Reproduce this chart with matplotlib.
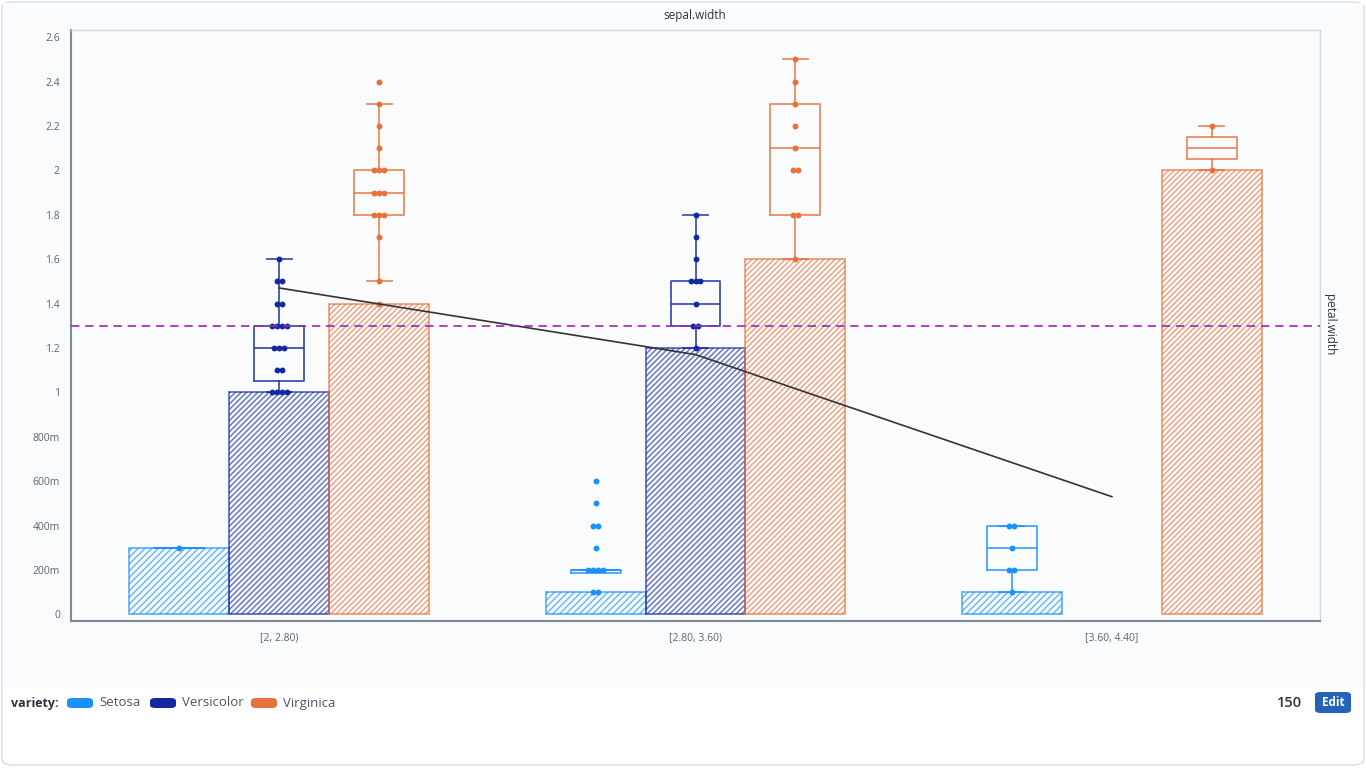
import matplotlib
matplotlib.use('Agg')
import matplotlib.pyplot as plt
from matplotlib.patches import FancyBboxPatch, Rectangle
from matplotlib.colors import to_rgba
import numpy as np

plt.rcParams['font.family'] = ['Open Sans', 'DejaVu Sans']
plt.rcParams['hatch.linewidth'] = 1.1

# ---------------- data ----------------
bins = ['[2, 2.80)', '[2.80, 3.60)', '[3.60, 4.40]']
varieties = ['Setosa', 'Versicolor', 'Virginica']
colors = {'Setosa': '#1890ff', 'Versicolor': '#1428a0', 'Virginica': '#e8703a'}
hatches = {'Setosa': '/////', 'Versicolor': '//////', 'Virginica': '//////'}

bar_setosa = [0.3, 0.1, 0.1]
bar_versicolor = [1.0, 1.2, None]
bar_virginica = [1.4, 1.6, 2.0]

pts_setosa = [
    [0.3],
    [0.1, 0.1, 0.2, 0.2, 0.2, 0.2, 0.3, 0.4, 0.4, 0.5, 0.6],
    [0.1, 0.2, 0.2, 0.3, 0.4, 0.4],
]
pts_versicolor = [
    [1.0, 1.0, 1.0, 1.0, 1.1, 1.1, 1.2, 1.2, 1.2, 1.3, 1.3, 1.3, 1.3, 1.4, 1.4, 1.5, 1.5, 1.6],
    [1.2, 1.3, 1.3, 1.4, 1.5, 1.5, 1.5, 1.6, 1.7, 1.8],
    [],
]
pts_virginica = [
    [1.4, 1.5, 1.7, 1.8, 1.8, 1.8, 1.9, 1.9, 1.9, 2.0, 2.0, 2.0, 2.1, 2.2, 2.3, 2.4],
    [1.6, 1.8, 1.8, 2.0, 2.0, 2.1, 2.2, 2.3, 2.4, 2.5],
    [2.0, 2.2],
]

# box stats: (q1, median, q3, whisker low, whisker high)
box_setosa = [(0.3, 0.3, 0.3, 0.3, 0.3), (0.185, 0.2, 0.2, 0.2, 0.2), (0.2, 0.3, 0.4, 0.1, 0.4)]
box_versicolor = [(1.05, 1.2, 1.3, 1.0, 1.6), (1.3, 1.4, 1.5, 1.2, 1.8), None]
box_virginica = [(1.8, 1.9, 2.0, 1.5, 2.3), (1.8, 2.1, 2.3, 1.6, 2.5), (2.05, 2.1, 2.15, 2.0, 2.2)]

trend_values = [1.47, 1.17, 0.53]
ref_value = 1.3

yticks = [0, 0.2, 0.4, 0.6, 0.8, 1.0, 1.2, 1.4, 1.6, 1.8, 2.0, 2.2, 2.4, 2.6]
ytick_labels = ['0', '200m', '400m', '600m', '800m', '1', '1.2', '1.4', '1.6', '1.8', '2', '2.2', '2.4', '2.6']

legend_title = 'variety:'
count_label = '150'
button_label = 'Edit'
title = 'sepal.width'
right_label = 'petal.width'

bars = {'Setosa': bar_setosa, 'Versicolor': bar_versicolor, 'Virginica': bar_virginica}
points = {'Setosa': pts_setosa, 'Versicolor': pts_versicolor, 'Virginica': pts_virginica}
boxes = {'Setosa': box_setosa, 'Versicolor': box_versicolor, 'Virginica': box_virginica}

# ---------------- figure ----------------
W, H = 1366, 768
fig = plt.figure(figsize=(W / 100, H / 100), dpi=100, facecolor='white')

def fx(x):
    return x / W

def fy(y):
    return 1 - y / H

# card background and border
fig.add_artist(FancyBboxPatch((fx(2), fy(765)), fx(1362), 763 / H,
                              boxstyle='round,pad=0,rounding_size=0.008',
                              transform=fig.transFigure, facecolor='white',
                              edgecolor='#d6dce6', lw=1.0, zorder=-2))
fig.add_artist(Rectangle((fx(3), fy(687)), fx(1360), 684 / H, transform=fig.transFigure,
                         facecolor='#f9fbfd', edgecolor='none', zorder=-1))

bg = '#f9fbfd'
ax = fig.add_axes([fx(71), fy(621), fx(1320 - 71), (621 - 30) / H])
ax.set_zorder(5)
ax.set_facecolor(bg)

x = np.arange(len(bins))
bw = 0.24
offsets = {'Setosa': -bw, 'Versicolor': 0.0, 'Virginica': bw}

for v in varieties:
    c = colors[v]
    xs, hs = [], []
    for i, val in enumerate(bars[v]):
        if val is None:
            continue
        xs.append(x[i] + offsets[v])
        hs.append(val)
    ax.bar(xs, hs, width=bw, facecolor='none', edgecolor=to_rgba(c, 0.62),
           hatch=hatches[v], linewidth=1.4, zorder=2)

for v in varieties:
    c = colors[v]
    stats, pos = [], []
    for i, b in enumerate(boxes[v]):
        if b is None:
            continue
        q1, med, q3, lo, hi = b
        stats.append(dict(q1=q1, med=med, q3=q3, whislo=lo, whishi=hi, fliers=[]))
        pos.append(x[i] + offsets[v])
    lc = to_rgba(c, 0.8)
    ax.bxp(stats, positions=pos, widths=0.12, capwidths=0.06, showfliers=False,
           boxprops=dict(color=lc, lw=1.3), whiskerprops=dict(color=lc, lw=1.3),
           capprops=dict(color=lc, lw=1.3), medianprops=dict(color=lc, lw=1.3),
           manage_ticks=False, zorder=3)
    # strip points: duplicates spread side by side
    for i, vals in enumerate(points[v]):
        if not vals:
            continue
        uniq, counts = np.unique(np.round(vals, 3), return_counts=True)
        px, py = [], []
        for u, n in zip(uniq, counts):
            for k in range(n):
                px.append(x[i] + offsets[v] + (k - (n - 1) / 2) * 0.012)
                py.append(u)
        ax.scatter(px, py, s=18, color=c, linewidths=0, zorder=4)

ax.plot(x, trend_values, color='#333333', lw=1.2, zorder=5)
ax.axhline(ref_value, color='#9c27b0', lw=1.2, ls=(0, (5, 3.5)), zorder=5)

ax.set_xlim(-0.5, len(bins) - 0.5)
ax.set_ylim(-0.03, 2.632)
ax.set_xticks(x)
ax.set_xticklabels(bins)
ax.set_yticks(yticks)
ax.set_yticklabels(ytick_labels)
ax.tick_params(axis='both', length=0, labelsize=7.5, labelcolor='#5b6577')
ax.tick_params(axis='y', pad=8)
ax.tick_params(axis='x', pad=8)
for s in ['left', 'bottom']:
    ax.spines[s].set_color('#7d8899')
    ax.spines[s].set_linewidth(1.5)
for s in ['top', 'right']:
    ax.spines[s].set_color('#d3dae5')
    ax.spines[s].set_linewidth(1.0)

fig.text(fx(695), fy(15), title, ha='center', va='center', fontsize=8.5, color='#2d3440')
fig.text(fx(1330), fy(325), right_label, ha='center', va='center', rotation=-90,
         fontsize=8.5, color='#2d3440')

# legend
fig.text(fx(11), fy(703), legend_title, ha='left', va='center', fontsize=9,
         fontweight='bold', color='#2d3440')
leg_x = {'Setosa': 67, 'Versicolor': 150, 'Virginica': 251}
for v in varieties:
    lx = leg_x[v]
    fig.add_artist(FancyBboxPatch((fx(lx), fy(708)), fx(26), 10 / H,
                                  boxstyle='round,pad=0,rounding_size=0.004',
                                  transform=fig.transFigure, facecolor=colors[v],
                                  edgecolor='none'))
    fig.text(fx(lx + 32), fy(703), v, ha='left', va='center', fontsize=9.5, color='#4a5466')

fig.text(fx(1302), fy(703), count_label, ha='right', va='center', fontsize=10.5,
         fontweight='semibold', color='#2d3440')
fig.add_artist(FancyBboxPatch((fx(1315), fy(713)), fx(36), 21 / H,
                              boxstyle='round,pad=0,rounding_size=0.004',
                              transform=fig.transFigure, facecolor='#2563b8',
                              edgecolor='none'))
fig.text(fx(1333), fy(703), button_label, ha='center', va='center', fontsize=8.5,
         fontweight='bold', color='white')

fig.savefig('out.png', dpi=100, facecolor='white')
